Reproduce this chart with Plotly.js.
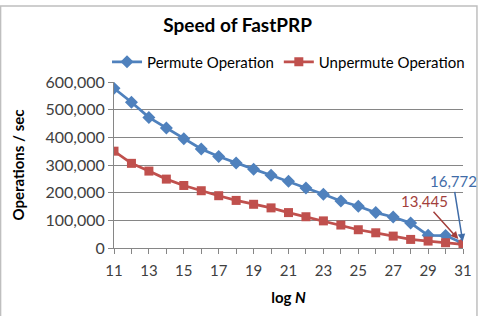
<!DOCTYPE html>
<html>
<head>
<meta charset="utf-8">
<script src="https://cdn.plot.ly/plotly-3.0.1.min.js"></script>
<style>
html,body{margin:0;padding:0;background:#fff;}
#chart{width:485px;height:316px;}
</style>
</head>
<body>
<div id="chart"></div>
<script>
// Data
const logN = [11,12,13,14,15,16,17,18,19,20,21,22,23,24,25,26,27,28,29,30,31];
const permuteOps = [577000,527000,472000,434000,395000,358000,331000,307000,285000,263000,241000,217000,194000,170000,151000,128000,112000,90000,46000,45000,16772];
const unpermuteOps = [350000,306000,278000,249000,226000,207000,189000,172000,158000,145000,128000,113000,98000,83000,66000,55000,43000,31000,25000,19000,13445];
const seriesNames = ['Permute Operation','Unpermute Operation'];
const titleText = 'Speed of FastPRP';
const yTitle = 'Operations / sec';
const xTitle = 'log <i>N</i>';
const permuteLabel = '16,772';
const unpermuteLabel = '13,445';

const blue = '#4F81BD';
const red = '#C0504D';
const font = 'Lato, "Open Sans", sans-serif';
const textCol = '#404040';

const traces = [
  {x: logN, y: permuteOps, name: seriesNames[0], type: 'scatter', mode: 'lines+markers',
   line: {color: blue, width: 2.75}, marker: {symbol: 'diamond', size: 10, color: blue}},
  {x: logN, y: unpermuteOps, name: seriesNames[1], type: 'scatter', mode: 'lines+markers',
   line: {color: red, width: 2.75}, marker: {symbol: 'square', size: 9, color: red}}
];

const last = logN.length - 1;
const layout = {
  width: 485, height: 316,
  margin: {l: 114, r: 22, t: 82, b: 68},
  paper_bgcolor: '#fff', plot_bgcolor: '#fff',
  font: {family: font, size: 15, color: textCol},
  title: {text: '<b>' + titleText + '</b>', font: {family: font, size: 19, color: '#000'},
          x: 0.49, xanchor: 'center', y: 0.92, yanchor: 'middle'},
  showlegend: true,
  legend: {orientation: 'h', x: -0.02, xanchor: 'left', y: 1.12, yanchor: 'middle',
           font: {family: font, size: 15, color: '#000'}, itemwidth: 30, tracegroupgap: 0,
           bgcolor: 'rgba(0,0,0,0)'},
  xaxis: {range: [11, 31], dtick: 2, tick0: 11, showgrid: false, zeroline: false,
          showline: true, linecolor: '#868686', linewidth: 1,
          ticks: 'outside', ticklen: 5, tickcolor: '#868686', ticklabelstandoff: 4,
          minor: {dtick: 1, ticks: 'outside', ticklen: 5, tickcolor: '#868686'},
          tickfont: {family: font, size: 15, color: textCol},
          title: {text: '<b>' + xTitle + '</b>', font: {family: font, size: 15, color: '#000'}, standoff: 14}},
  yaxis: {range: [0, 600000], dtick: 100000, tickformat: ',d', showgrid: true,
          gridcolor: '#868686', gridwidth: 1, zeroline: false,
          showline: true, linecolor: '#868686', linewidth: 1,
          ticks: 'outside', ticklen: 5, tickcolor: '#868686',
          tickfont: {family: font, size: 16, color: textCol},
          title: {text: '<b>' + yTitle + '</b>', font: {family: font, size: 15, color: '#000'}, standoff: 17}},
  annotations: [
    {x: logN[last], y: permuteOps[last], text: permuteLabel, showarrow: true,
     arrowhead: 2, arrowsize: 1, arrowwidth: 1.5, arrowcolor: '#3F6CA8',
     ax: -10, ay: -62, font: {family: font, size: 15, color: '#3F6CA8'}, standoff: 2},
    {x: logN[last], y: unpermuteOps[last], text: unpermuteLabel, showarrow: true,
     arrowhead: 2, arrowsize: 1, arrowwidth: 1.5, arrowcolor: '#A33F3C',
     ax: -39, ay: -43, font: {family: font, size: 15, color: '#A33F3C'}, standoff: 7}
  ],
  shapes: [
    {type: 'rect', xref: 'paper', yref: 'paper', x0: -0.325, x1: 1.04, y0: -0.45, y1: 1.458,
     line: {color: '#BFBFBF', width: 1.5}, fillcolor: 'rgba(0,0,0,0)', layer: 'below'}
  ]
};

Plotly.newPlot('chart', traces, layout, {displayModeBar: false, staticPlot: true});
</script>
</body>
</html>
